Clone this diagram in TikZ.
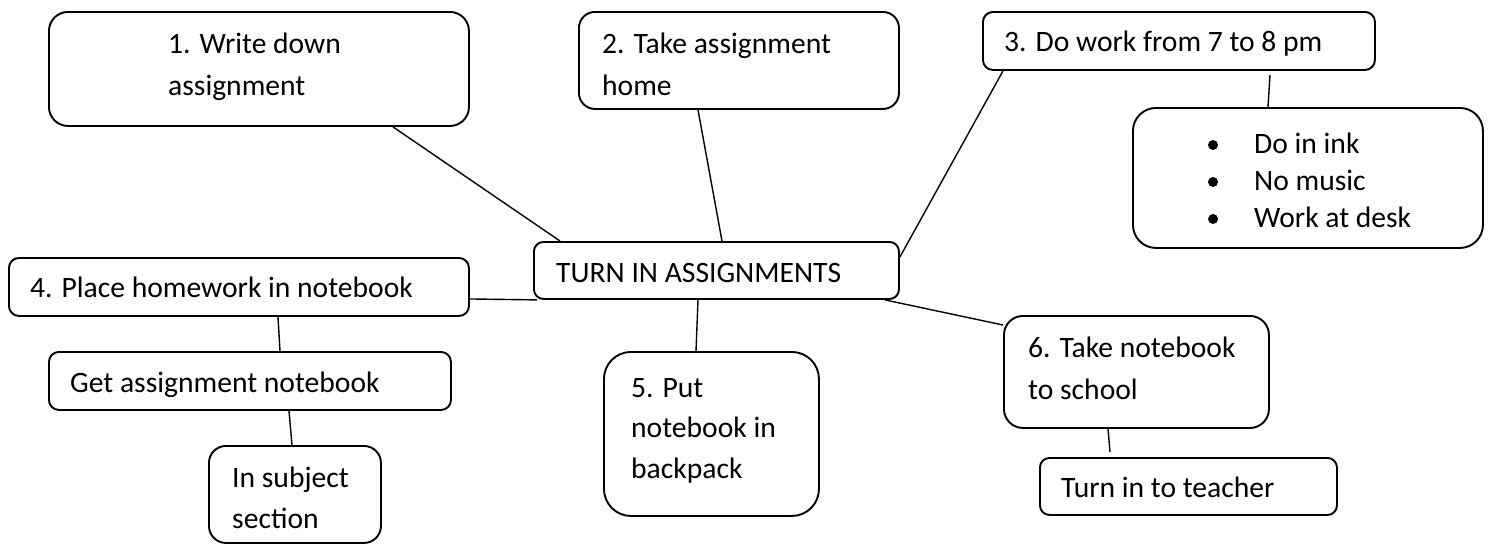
\documentclass[tikz,border=0pt]{standalone}
\usepackage{fontspec}
\setmainfont{Carlito}
\begin{document}
\begin{tikzpicture}[x=1pt,y=-1pt,
  box/.style={draw, line width=1.9pt, inner sep=0pt, anchor=north west},
  lbl/.style={anchor=base west, inner sep=0pt, font=\fontsize{29.6}{41}\selectfont},
  conn/.style={line width=1.4pt},
  dot/.style={circle, fill=black, inner sep=0pt, minimum size=10pt}]
\useasboundingbox (0,0) rectangle (1489,544);
% boxes
\node[box, minimum width=420pt, minimum height=114pt, rounded corners=19pt] (b1) at (48,11) {};
\node[box, minimum width=320pt, minimum height=97pt, rounded corners=16pt] (b2) at (578,11) {};
\node[box, minimum width=392pt, minimum height=58pt, rounded corners=10pt] (b3) at (982,11) {};
\node[box, minimum width=350pt, minimum height=140pt, rounded corners=23pt] (bul) at (1132,107) {};
\node[box, minimum width=365pt, minimum height=57pt, rounded corners=9.5pt] (c) at (533,241) {};
\node[box, minimum width=460pt, minimum height=58pt, rounded corners=10pt] (b4) at (8,257) {};
\node[box, minimum width=402pt, minimum height=58pt, rounded corners=10pt] (get) at (48,351) {};
\node[box, minimum width=172pt, minimum height=97pt, rounded corners=17pt] (sub) at (208,445) {};
\node[box, minimum width=215pt, minimum height=164pt, rounded corners=27pt] (b5) at (603,351) {};
\node[box, minimum width=265pt, minimum height=112pt, rounded corners=19pt] (b6) at (1003,315) {};
\node[box, minimum width=297pt, minimum height=57pt, rounded corners=9.5pt] (t) at (1039,457) {};
% texts
\node[lbl] (t1a) at (168,53) {1. Write down};
\node[lbl] (t1b) at (168,95) {assignment};
\node[lbl] (t2a) at (602,53) {2. Take assignment};
\node[lbl] (t2b) at (602,95) {home};
\node[lbl] (t3) at (1004,51) {3. Do work from 7 to 8 pm};
\node[lbl] (u1) at (1254,153) {Do in ink};
\node[lbl] (u2) at (1254,190) {No music};
\node[lbl] (u3) at (1254,227) {Work at desk};
\node[dot] (d1) at (1213,145) {};
\node[dot] (d2) at (1213,182) {};
\node[dot] (d3) at (1213,219) {};
\node[lbl] (tc) at (556,282) {TURN IN ASSIGNMENTS};
\node[lbl] (t4) at (30,297) {4. Place homework in notebook};
\node[lbl] (tg) at (70,392) {Get assignment notebook};
\node[lbl] (tsa) at (232,487) {In subject};
\node[lbl] (tsb) at (232,528) {section};
\node[lbl] (t5a) at (631,397) {5. Put};
\node[lbl] (t5b) at (631,437) {notebook in};
\node[lbl] (t5c) at (631,478) {backpack};
\node[lbl] (t6a) at (1028,357) {6. Take notebook};
\node[lbl] (t6b) at (1028,399) {to school};
\node[lbl] (tt) at (1061,497) {Turn in to teacher};
% connectors
\draw[conn] ([xshift=345pt]b1.south west) -- ([xshift=27pt]c.north west);
\draw[conn] ([xshift=120pt]b2.south west) -- ([xshift=189pt]c.north west);
\draw[conn] ([xshift=21pt]b3.south west) -- ([yshift=-16pt]c.north east);
\draw[conn] ([xshift=288pt,yshift=-4pt]b3.south west) -- ([xshift=136pt]bul.north west);
\draw[conn] ([yshift=-12pt]b4.east) -- ([xshift=4pt]c.south west);
\draw[conn] ([xshift=270pt]b4.south west) -- ([xshift=232pt]get.north west);
\draw[conn] ([xshift=241pt]get.south west) -- ([xshift=84pt]sub.north west);
\draw[conn] ([xshift=165pt]c.south west) -- ([xshift=93pt]b5.north west);
\draw[conn] ([xshift=-15pt]c.south east) -- ([yshift=-10pt]b6.north west);
\draw[conn] ([xshift=105pt]b6.south west) -- ([xshift=71pt,yshift=5pt]t.north west);
\end{tikzpicture}
\end{document}
